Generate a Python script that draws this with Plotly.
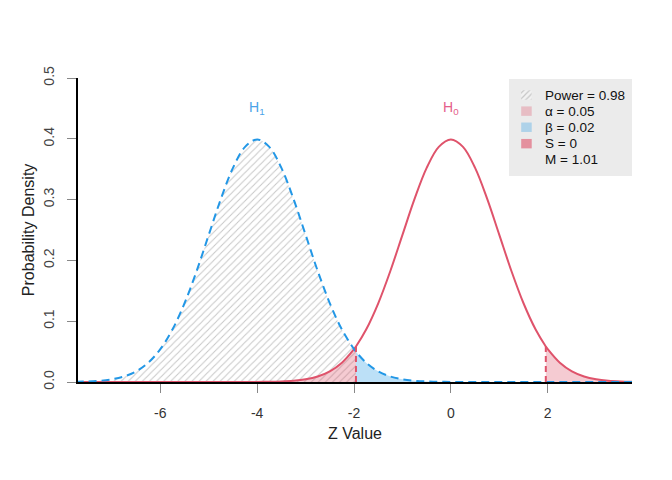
import numpy as np
import plotly.graph_objects as go

# z grid and the two densities
z_values = [
    -7.75, -7.5, -7.25, -7.0, -6.75, -6.5, -6.25, -6.0, -5.75, -5.5, -5.25, -5.0,
    -4.75, -4.5, -4.25, -4.0, -3.75, -3.5, -3.25, -3.0, -2.75, -2.5, -2.25, -2.0,
    -1.96, -1.75, -1.5, -1.25, -1.0, -0.75, -0.5, -0.25, 0.0, 0.25, 0.5, 0.75,
    1.0, 1.25, 1.5, 1.75, 1.96, 2.0, 2.25, 2.5, 2.75, 3.0, 3.25, 3.5, 3.75,
]
h1_density = [
    0.0004, 0.0009, 0.0020, 0.0044, 0.0091, 0.0175, 0.0317, 0.0540, 0.0863, 0.1295, 0.1826, 0.2420,
    0.3011, 0.3521, 0.3867, 0.3989, 0.3867, 0.3521, 0.3011, 0.2420, 0.1826, 0.1295, 0.0863, 0.0540,
    0.0498, 0.0317, 0.0175, 0.0091, 0.0044, 0.0020, 0.0009, 0.0004, 0.0001, 0.0, 0.0, 0.0,
    0.0, 0.0, 0.0, 0.0, 0.0, 0.0, 0.0, 0.0, 0.0, 0.0, 0.0, 0.0, 0.0,
]
h0_density = [
    0.0, 0.0, 0.0, 0.0, 0.0, 0.0, 0.0, 0.0, 0.0, 0.0, 0.0, 0.0,
    0.0, 0.0, 0.0, 0.0001, 0.0004, 0.0009, 0.0020, 0.0044, 0.0091, 0.0175, 0.0317, 0.0540,
    0.0584, 0.0863, 0.1295, 0.1826, 0.2420, 0.3011, 0.3521, 0.3867, 0.3989, 0.3867, 0.3521, 0.3011,
    0.2420, 0.1826, 0.1295, 0.0863, 0.0584, 0.0540, 0.0317, 0.0175, 0.0091, 0.0044, 0.0020, 0.0009, 0.0004,
]
critical_z = 1.96
legend_labels = ["Power = 0.98", "α = 0.05", "β = 0.02", "S = 0", "M = 1.01"]
x_ticks = [-6, -4, -2, 0, 2]
y_ticks = [0.0, 0.1, 0.2, 0.3, 0.4, 0.5]

RED = "#DF536B"
BLUE = "#2297E6"
FONT = "Liberation Sans, Arial, sans-serif"

z = np.array(z_values)
h1 = np.array(h1_density)
h0 = np.array(h0_density)
left = z <= -critical_z
right_of_left = z >= -critical_z
right = z >= critical_z

fig = go.Figure()

# power (hatched) under H1
fig.add_trace(go.Scatter(
    x=z[left], y=h1[left], fill="tozeroy", mode="lines", line=dict(width=0, shape="spline"),
    fillcolor="rgba(255,255,255,0)",
    fillpattern=dict(shape="/", fgcolor="#8f8f8f", bgcolor="rgba(255,255,255,0)", size=5, solidity=0.2),
    hoverinfo="skip", showlegend=False,
))
# alpha regions under H0
fig.add_trace(go.Scatter(
    x=z[left], y=h0[left], fill="tozeroy", mode="lines", line=dict(width=0, shape="spline"),
    fillcolor="rgba(223,83,107,0.3)", hoverinfo="skip", showlegend=False,
))
fig.add_trace(go.Scatter(
    x=z[right], y=h0[right], fill="tozeroy", mode="lines", line=dict(width=0, shape="spline"),
    fillcolor="rgba(223,83,107,0.3)", hoverinfo="skip", showlegend=False,
))
# beta under H1
fig.add_trace(go.Scatter(
    x=z[right_of_left], y=h1[right_of_left], fill="tozeroy", mode="lines", line=dict(width=0, shape="spline"),
    fillcolor="rgba(34,151,230,0.3)", hoverinfo="skip", showlegend=False,
))

# curves
fig.add_trace(go.Scatter(
    x=z, y=h0, mode="lines", line=dict(color=RED, width=2, shape="spline"),
    hoverinfo="skip", showlegend=False,
))
fig.add_trace(go.Scatter(
    x=z, y=h1, mode="lines", line=dict(color=BLUE, width=2, dash="8px,5px", shape="spline"),
    hoverinfo="skip", showlegend=False,
))

# critical value markers
crit_height = h0[np.isclose(z, -critical_z)][0]
for cz in (-critical_z, critical_z):
    fig.add_trace(go.Scatter(
        x=[cz, cz], y=[0, crit_height], mode="lines",
        line=dict(color=RED, width=2, dash="6px,4px"), hoverinfo="skip", showlegend=False,
    ))

fig.add_annotation(x=-4, y=0.451, text="H<sub>1</sub>", showarrow=False,
                   font=dict(family=FONT, size=14, color="#4BA3E8"))
fig.add_annotation(x=0, y=0.451, text="H<sub>0</sub>", showarrow=False,
                   font=dict(family=FONT, size=14, color="#E5608A"))

# legend box
fig.add_shape(type="rect", xref="paper", yref="paper", x0=0.778, x1=1.0, y0=0.678, y1=0.997,
              fillcolor="#EBEBEB", line=dict(width=0), layer="below")
row_y = [0.944, 0.891, 0.838, 0.784, 0.731]
key_colors = [None, "rgba(223,83,107,0.3)", "rgba(34,151,230,0.3)", "rgba(223,83,107,0.6)", None]
for ry, kc in zip(row_y, key_colors):
    if kc is not None:
        fig.add_shape(type="rect", xref="paper", yref="paper", x0=0.800, x1=0.819,
                      y0=ry - 0.0155, y1=ry + 0.0155, fillcolor=kc, line=dict(width=0), layer="below")
# hatched key, drawn as a tiny patterned area in data units
fig.add_trace(go.Scatter(
    x=[1.45, 1.667, 1.667, 1.45, 1.45], y=[0.4643, 0.4643, 0.4798, 0.4798, 0.4643],
    fill="toself", mode="lines", line=dict(width=0),
    fillcolor="#f2f2f2",
    fillpattern=dict(shape="/", fgcolor="#999999", bgcolor="#f2f2f2", size=4, solidity=0.3),
    hoverinfo="skip", showlegend=False,
))
for ry, label in zip(row_y, legend_labels):
    fig.add_annotation(xref="paper", yref="paper", x=0.839, y=ry, text=label, showarrow=False,
                       xanchor="left", yanchor="middle", font=dict(family=FONT, size=13.5, color="#111"))

# axis titles
fig.add_annotation(xref="paper", yref="paper", x=0.5, y=-0.171, text="Z Value", showarrow=False,
                   xanchor="center", yanchor="middle",
                   font=dict(family=FONT, size=16, color="#222"))
fig.add_annotation(xref="paper", yref="paper", x=-0.09, y=0.5, text="Probability Density", showarrow=False,
                   xanchor="center", yanchor="middle", textangle=-90,
                   font=dict(family=FONT, size=16, color="#222"))

fig.update_xaxes(
    range=[-7.7, 3.74], tickvals=x_ticks, ticktext=[str(t) for t in x_ticks],
    showgrid=False, zeroline=False, showline=True, linecolor="black", linewidth=1.5,
    ticks="outside", ticklen=9, tickcolor="#888", tickwidth=1.2, ticklabelstandoff=8,
    tickfont=dict(family=FONT, size=14, color="#333"),
)
fig.update_yaxes(
    range=[0, 0.5], tickvals=y_ticks, ticktext=[f"{t:.1f}" for t in y_ticks],
    showgrid=False, zeroline=False, showline=True, linecolor="black", linewidth=1.5,
    ticks="outside", ticklen=9, tickcolor="#888", tickwidth=1.2, tickangle=-90, ticklabelstandoff=8,
    tickfont=dict(family=FONT, size=14, color="#444"),
)
# page body has an 8px offset, so margins are trimmed on the top/left
fig.update_layout(
    width=672, height=480,
    margin=dict(l=70, r=48, t=70, b=106),
    plot_bgcolor="white", paper_bgcolor="white",
    font=dict(family=FONT),
)
fig.write_html("out.html")
